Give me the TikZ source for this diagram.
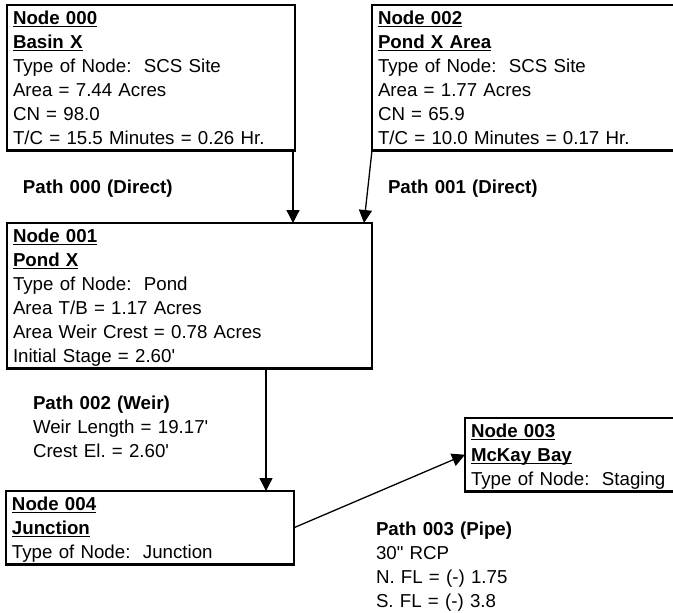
\documentclass[tikz,border=0pt]{standalone}
\usepackage{fontspec}
\setmainfont{Liberation Sans}
\usetikzlibrary{arrows.meta}

% bold heading with an underline at a fixed depth
\newcommand{\ulhead}[1]{\leavevmode\setbox0\hbox{\textbf{#1}}\rlap{\rule[-3pt]{\wd0}{1.3pt}}\box0}
\newcommand{\sgl}{\textquotesingle}
\newcommand{\dbl}{\textquotedbl}

\tikzset{
  x=1pt, y=-1pt,
  every node/.style={font=\fontsize{18.7}{24}\selectfont\frenchspacing, text=black},
  nodebox/.style 2 args={draw=black, line width=2.8pt, outer sep=0pt,
    anchor=north west, inner xsep=6pt, inner ysep=6pt,
    text width=#1, align=left, text height=13.4pt, text depth=#2},
  lbl/.style={anchor=base west, inner sep=0pt, outer sep=0pt, align=left, text width=#1},
  conn/.style={draw=black, line width=1.3pt, -{Triangle[length=13pt,width=13pt]}},
}

\begin{document}
\begin{tikzpicture}
\useasboundingbox (0,0) rectangle (673,613);
\clip (0,0) rectangle (673,613);

% watershed nodes
\node[nodebox={276pt}{120pt}] (n000) at (7,5)
  {\ulhead{Node 000}\\\ulhead{Basin X}\\Type of Node:\ \ SCS Site\\Area = 7.44 Acres\\CN = 98.0\\T/C = 15.5 Minutes = 0.26 Hr.};
\node[nodebox={292pt}{120pt}] (n002) at (372,5)
  {\ulhead{Node 002}\\\ulhead{Pond X Area}\\Type of Node:\ \ SCS Site\\Area = 1.77 Acres\\CN = 65.9\\T/C = 10.0 Minutes = 0.17 Hr.};
\node[nodebox={353pt}{120pt}] (n001) at (7,223)
  {\ulhead{Node 001}\\\ulhead{Pond X}\\Type of Node:\ \ Pond\\Area T/B = 1.17 Acres\\Area Weir Crest = 0.78 Acres\\Initial Stage = 2.60\sgl};
\node[nodebox={276pt}{48pt}] (n004) at (6,491)
  {\ulhead{Node 004}\\\ulhead{Junction}\\Type of Node:\ \ Junction};
\node[nodebox={199pt}{48pt}] (n003) at (465,418)
  {\ulhead{Node 003}\\\ulhead{McKay Bay}\\Type of Node:\ \ Staging};

% paths between nodes
\draw[conn] ([xshift=-2pt]n000.south east) -- ([xshift=-2pt]n000.south east |- n001.north);
\draw[conn] (n002.south west) -- ([xshift=-8pt]n001.north east);
\draw[conn] ([xshift=-28pt]n004.north east |- n001.south) -- ([xshift=-28pt]n004.north east);
\draw[conn] (n004.east) -- (n003.west);

% path labels
\node[lbl=200pt] (p000) at (23,193) {\textbf{Path 000 (Direct)}};
\node[lbl=200pt] (p001) at (388,193) {\textbf{Path 001 (Direct)}};
\node[lbl=220pt] (p002) at (33,409)
  {\textbf{Path 002 (Weir)}\\Weir Length = 19.17\sgl\\Crest El. = 2.60\sgl};
\node[lbl=220pt] (p003) at (376,535)
  {\textbf{Path 003 (Pipe)}\\30\dbl{} RCP\\N. FL = (-) 1.75\\S. FL = (-) 3.8};
\end{tikzpicture}
\end{document}
